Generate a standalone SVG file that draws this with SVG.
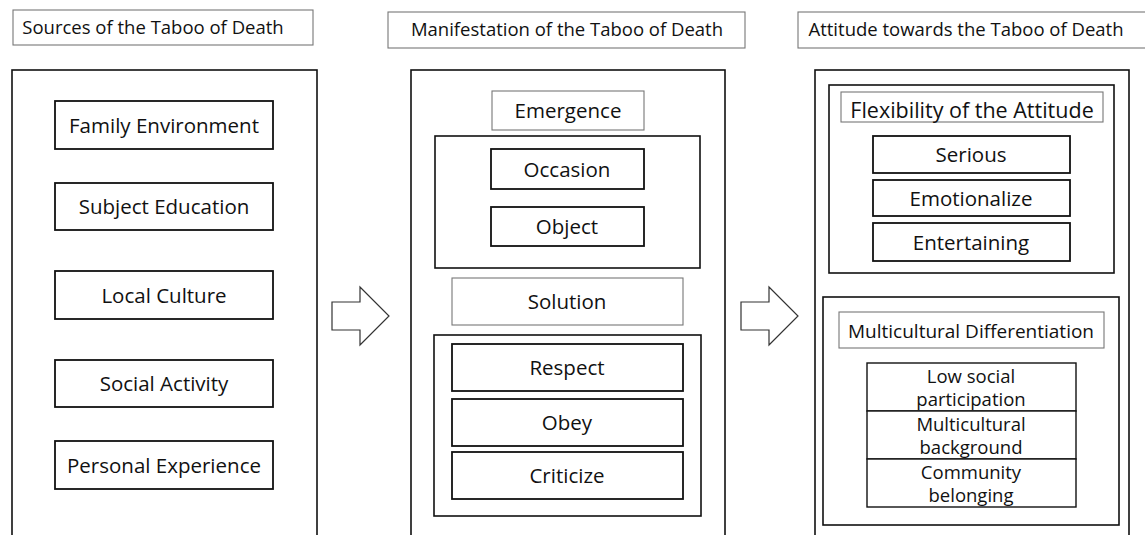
<svg xmlns="http://www.w3.org/2000/svg" width="1145" height="535" viewBox="0 0 1145 535">
<style>
.bg{fill:#fff}
.panel{fill:none;stroke:#111;stroke-width:1.6}
.box{fill:#fff;stroke:#111;stroke-width:1.8}
.gbox{fill:#fff;stroke:#777;stroke-width:1.1}
.arrow{fill:#fff;stroke:#333;stroke-width:1.2}
text{font-family:"Open Sans","Noto Sans",sans-serif;fill:#111;text-anchor:middle}
.t{font-size:20.5px}
.s{font-size:18.5px}
.h{font-size:18.5px}
</style>
<rect class="bg" x="0" y="0" width="1145" height="535"/>
<g id="title-sources"><rect class="gbox" x="13" y="10" width="300" height="35"/><text class="h" x="153" y="34">Sources of the Taboo of Death</text></g>
<g id="title-manifestation"><rect class="gbox" x="388" y="12" width="357" height="36"/><text class="h" x="567" y="36">Manifestation of the Taboo of Death</text></g>
<g id="title-attitude"><rect class="gbox" x="798" y="12" width="352" height="36"/><text class="h" x="966" y="36">Attitude towards the Taboo of Death</text></g>

<g id="panel-sources"><rect class="panel" x="12" y="70" width="305" height="480"/></g>
<g id="family"><rect class="box" x="55" y="101" width="218" height="48"/><text class="t" x="164" y="133">Family Environment</text></g>
<g id="subject"><rect class="box" x="55" y="183" width="218" height="47"/><text class="t" x="164" y="214">Subject Education</text></g>
<g id="local"><rect class="box" x="55" y="271" width="218" height="48"/><text class="t" x="164" y="303">Local Culture</text></g>
<g id="social"><rect class="box" x="55" y="360" width="218" height="47"/><text class="t" x="164" y="391">Social Activity</text></g>
<g id="personal"><rect class="box" x="55" y="441" width="218" height="48"/><text class="t" x="164" y="473">Personal Experience</text></g>

<g id="panel-manifestation"><rect class="panel" x="411" y="70" width="314" height="480"/></g>
<g id="emergence"><rect class="gbox" x="492" y="91" width="152" height="39"/><text class="t" x="568" y="118">Emergence</text></g>
<g id="group-emergence"><rect class="panel" x="435" y="136" width="265" height="132"/></g>
<g id="occasion"><rect class="box" x="491" y="149" width="153" height="40"/><text class="t" x="567" y="177">Occasion</text></g>
<g id="object"><rect class="box" x="491" y="207" width="153" height="39"/><text class="t" x="567" y="234">Object</text></g>
<g id="solution"><rect class="gbox" x="452" y="278" width="231" height="47"/><text class="t" x="567" y="309">Solution</text></g>
<g id="group-solution"><rect class="panel" x="434" y="335" width="267" height="181"/></g>
<g id="respect"><rect class="box" x="452" y="344" width="231" height="47"/><text class="t" x="567" y="375">Respect</text></g>
<g id="obey"><rect class="box" x="452" y="399" width="231" height="47"/><text class="t" x="567" y="430">Obey</text></g>
<g id="criticize"><rect class="box" x="452" y="452" width="231" height="47"/><text class="t" x="567" y="483">Criticize</text></g>

<g id="panel-attitude"><rect class="panel" x="815" y="70" width="314" height="480"/></g>
<g id="group-flexibility"><rect class="panel" x="829" y="85" width="285" height="188"/></g>
<g id="flexibility"><rect class="gbox" x="841" y="92" width="262" height="30"/><text class="t" x="972" y="118" style="font-size:21.5px">Flexibility of the Attitude</text></g>
<g id="serious"><rect class="box" x="873" y="136" width="197" height="37"/><text class="t" x="971" y="162">Serious</text></g>
<g id="emotionalize"><rect class="box" x="873" y="180" width="197" height="36"/><text class="t" x="971" y="206">Emotionalize</text></g>
<g id="entertaining"><rect class="box" x="873" y="223" width="197" height="38"/><text class="t" x="971" y="250">Entertaining</text></g>
<g id="group-multicultural"><rect class="panel" x="823" y="297" width="296" height="228"/></g>
<g id="multicultural"><rect class="gbox" x="839" y="312" width="265" height="36"/><text class="t" x="971" y="338" style="font-size:19px">Multicultural Differentiation</text></g>
<g id="low"><rect class="box" x="867" y="363" width="209" height="48" style="stroke-width:1.4"/><text class="s" x="971" y="383">Low social</text><text class="s" x="971" y="406">participation</text></g>
<g id="background"><rect class="box" x="867" y="411" width="209" height="48" style="stroke-width:1.4"/><text class="s" x="971" y="431">Multicultural</text><text class="s" x="971" y="454">background</text></g>
<g id="community"><rect class="box" x="867" y="459" width="209" height="48" style="stroke-width:1.4"/><text class="s" x="971" y="479">Community</text><text class="s" x="971" y="502">belonging</text></g>

<g id="connectors">
<path class="arrow" d="M332,302 H360 V287 L389,316 L360,345 V330 H332 Z"/>
<path class="arrow" d="M741,302 H769 V287 L798,316 L769,345 V330 H741 Z"/>
</g>
</svg>
